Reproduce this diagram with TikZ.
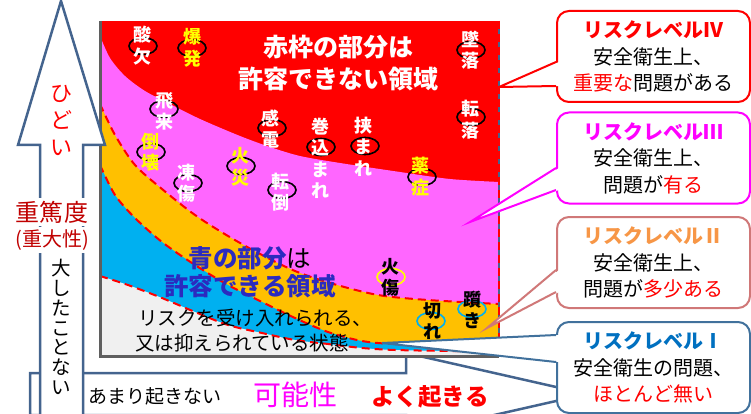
\documentclass[tikz,border=0pt]{standalone}
\usepackage{fontspec}
\setmainfont{Noto Sans CJK JP}
\definecolor{riskred}{HTML}{FF0000}
\definecolor{riskpink}{HTML}{FF66FF}
\definecolor{riskmag}{HTML}{FF00FF}
\definecolor{riskorange}{HTML}{FFC000}
\definecolor{riskblue}{HTML}{00B0F0}
\definecolor{riskgray}{HTML}{F0F0F0}
\definecolor{arrowblue}{HTML}{44648E}
\definecolor{darkred}{HTML}{C00000}
\definecolor{okblue}{HTML}{2B2BBF}
\definecolor{lvtwo}{HTML}{F79646}
\definecolor{lvtwoline}{HTML}{D07878}
\definecolor{lvone}{HTML}{0070C0}
\definecolor{lvoneline}{HTML}{41719C}
\definecolor{hazyellow}{HTML}{FFFF00}
\definecolor{framegray}{HTML}{5F5F5F}

\newcommand{\fs}[2]{\fontsize{#1}{#2}\selectfont\lineskiplimit=-30pt\relax}
% band boundaries of the chart
\newcommand{\bndA}{plot[smooth] coordinates {(100,36) (110,58) (125,76) (145,91) (170,104) (200,119) (240,136) (270,147) (300,156) (340,163) (400,172) (450,179) (499,182)}}
\newcommand{\bndB}{plot[smooth] coordinates {(100,104) (115,135) (135,165) (162,189) (195,215) (228,236) (262,255) (295,271) (330,283) (378,295) (428,300) (499,304)}}
\newcommand{\bndC}{plot[smooth] coordinates {(100,165) (115,195) (135,218) (162,242) (195,265) (228,285) (262,302) (295,318) (328,332) (362,341) (395,344) (450,344) (499,344)}}
\newcommand{\bndD}{plot[smooth] coordinates {(100,276) (128,285) (162,298) (195,312) (228,325) (262,333) (295,340) (328,344) (362,348) (395,350) (450,351) (499,352)}}

\tikzset{
  riskdash/.style={riskred, line width=2pt, dash pattern=on 8pt off 5pt},
  bigarrow/.style={draw=arrowblue, line width=2.5pt, fill=white},
  hazard/.style={inner sep=0pt, align=center, font=\fs{18}{21.5}\bfseries},
  callbox/.style={draw, line width=2pt, fill=white, rounded corners=12pt,
    minimum width=193pt, minimum height=91pt, align=center, inner sep=0pt,
    font=\fs{20}{26.5}},
  plain/.style={inner sep=0pt, align=center},
}

\begin{document}
\begin{tikzpicture}[x=1pt, y=-1pt, >=latex]
    \useasboundingbox (0,0) rectangle (751,414);

    % 1. horizontal arrow (possibility)
    \draw[bigarrow] (30,373) -- (406,373) -- (406,353) -- (587,394) -- (406,435) -- (406,415) -- (30,415) -- cycle;

    % 2. coloured bands of the chart
    \begin{scope}
        \clip (100,21) rectangle (499,356);
        \fill[riskred] (100,21) rectangle (499,356);
        \fill[riskpink] \bndA -- (499,356) -- (100,356) -- cycle;
        \fill[riskorange] \bndB -- (499,356) -- (100,356) -- cycle;
        \fill[riskblue] \bndC -- (499,356) -- (100,356) -- cycle;
        \fill[riskgray] \bndD -- (499,356) -- (100,356) -- cycle;
        \draw[riskdash] \bndB;
        \draw[riskdash] \bndC;
        \draw[riskdash] \bndD;
    \end{scope}
    \draw[framegray, line width=3pt] (100,21) -- (100,356) -- (499,356);
    \draw[arrowblue, line width=1.5pt] (499,21) -- (499,356);
    \draw[riskdash] (499,21) -- (499,352);

    % 3. hazards with rings
    \foreach \nm/\hx/\hy/\tc/\rc/\rx/\ry/\txt in {
        sanketsu/142/45.5/white/black/143/46/{酸\\欠},
        bakuhatsu/192/48/hazyellow/black/192/48/{爆\\発},
        tsuiraku/470/50/white/black/471/50/{墜\\落},
        tenraku/470/119.5/white/black/471/117/{転\\落},
        hirai/164/111.5/white/black/164/109/{飛\\来},
        toukai/150/152/hazyellow/black/151/152/{倒\\壊},
        tousho/186/183/white/black/188/183/{凍\\傷},
        kasai/240/167/hazyellow/black/241/166/{火\\災},
        kanden/270/129/white/black/272/128/{感\\電},
        tentou/280/192/white/black/282/190/{転\\倒},
        makikomi/320/158.5/white/black/321/147/{巻\\込\\ま\\れ},
        hasamare/363/146.5/white/black/365/146/{挟\\ま\\れ},
        yakushou/420/176.5/hazyellow/black/422/177/{薬\\症},
        yakedo/390/277.5/black/hazyellow/391/277/{火\\傷},
        kire/432/321/black/riskblue/431/321/{切\\れ},
        tsumazuki/472/310/black/riskblue/472/309/{躓\\き}}
    {
        \draw[\rc, line width=1.6pt] (\rx,\ry) ellipse [x radius=14pt, y radius=8.5pt];
        \node[hazard, text=\tc] (\nm) at (\hx,\hy) {\txt};
    }

    % 4. texts in the chart
    \node[plain, text=white, font=\fs{25}{32}\bfseries] (redtxt) at (338,63) {赤枠の部分は\\許容できない領域};
    \node[plain, font=\fs{24.5}{28}] (bluetxt) at (250,272) {{\bfseries\color{okblue}青の部分}は\\{\bfseries\color{okblue}許容できる領域}};
    \node[plain, font=\fs{19.5}{24}] (accept1) at (255,318) {リスクを受け入れられる、};
    \node[plain, font=\fs{19.5}{24}] (accept2) at (242,343) {又は抑えられている状態};

    % 5. vertical arrow (severity)
    \draw[bigarrow] (61,1) -- (105,145) -- (83,145) -- (83,420) -- (40,420) -- (40,145) -- (18,145) -- cycle;
    \node[plain, text=riskred, font=\fs{22}{27}] (hidoi) at (61,120) {ひ\\ど\\い};
    \node[plain, fill=white, inner sep=3pt, text=darkred, font=\fs{24}{28}] (sevr) at (52,212) {重篤度};
    \node[plain, fill=white, inner sep=3pt, text=darkred, font=\fs{20}{24}] (sevr2) at (52,240) {(重大性)};
    \node[plain, font=\fs{19.5}{19.7}] (minor) at (61.5,327) {大\\し\\た\\こ\\と\\な\\い};

    % 6. texts in the horizontal arrow
    \node[plain, font=\fs{19}{22}] (rare) at (155,396) {あまり起きない};
    \node[plain, text=riskmag, font=\fs{28}{30}] (kanou) at (295,395) {可能性};
    \node[plain, text=riskred, font=\fs{23.5}{26}\bfseries] (often) at (430,397) {よく起きる};

    % 7. callouts for the risk levels
    \node[callbox, draw=riskred] (lv4) at (653.5,56.5)
        {{\bfseries\color{riskred}リスクレベルⅣ}\\安全衛生上、\\{\color{riskred}重要な}問題がある};
    \node[callbox, draw=riskmag] (lv3) at (653.5,158)
        {{\bfseries\color{riskmag}リスクレベルⅢ}\\安全衛生上、\\問題が{\color{riskred}有る}};
    \node[callbox, draw=lvtwoline] (lv2) at (653.5,262.5)
        {{\bfseries\color{lvtwo}リスクレベルⅡ}\\安全衛生上、\\問題が{\color{riskred}多少ある}};
    \node[callbox, draw=lvoneline] (lv1) at (653.5,367.5)
        {{\bfseries\color{lvone}リスクレベルⅠ}\\安全衛生の問題、\\{\color{riskred}ほとんど無い}};

    \foreach \lv/\col/\tx/\ty/\ya/\yb in {
        lv4/riskred/499/87/62/86,
        lv3/riskmag/470/222/168/190,
        lv2/lvtwoline/487/328/270/292,
        lv1/lvoneline/382/343/335/362}
    {
        \coordinate (\lv tip) at (\tx,\ty);
        \coordinate (\lv a) at (\lv.west |- 0,\ya);
        \coordinate (\lv b) at (\lv.west |- 0,\yb);
        \fill[white] ([xshift=3pt]\lv a) -- (\lv tip) -- ([xshift=3pt]\lv b) -- cycle;
        \draw[\col, line width=2pt] (\lv a) -- (\lv tip) -- (\lv b);
    }
\end{tikzpicture}
\end{document}
